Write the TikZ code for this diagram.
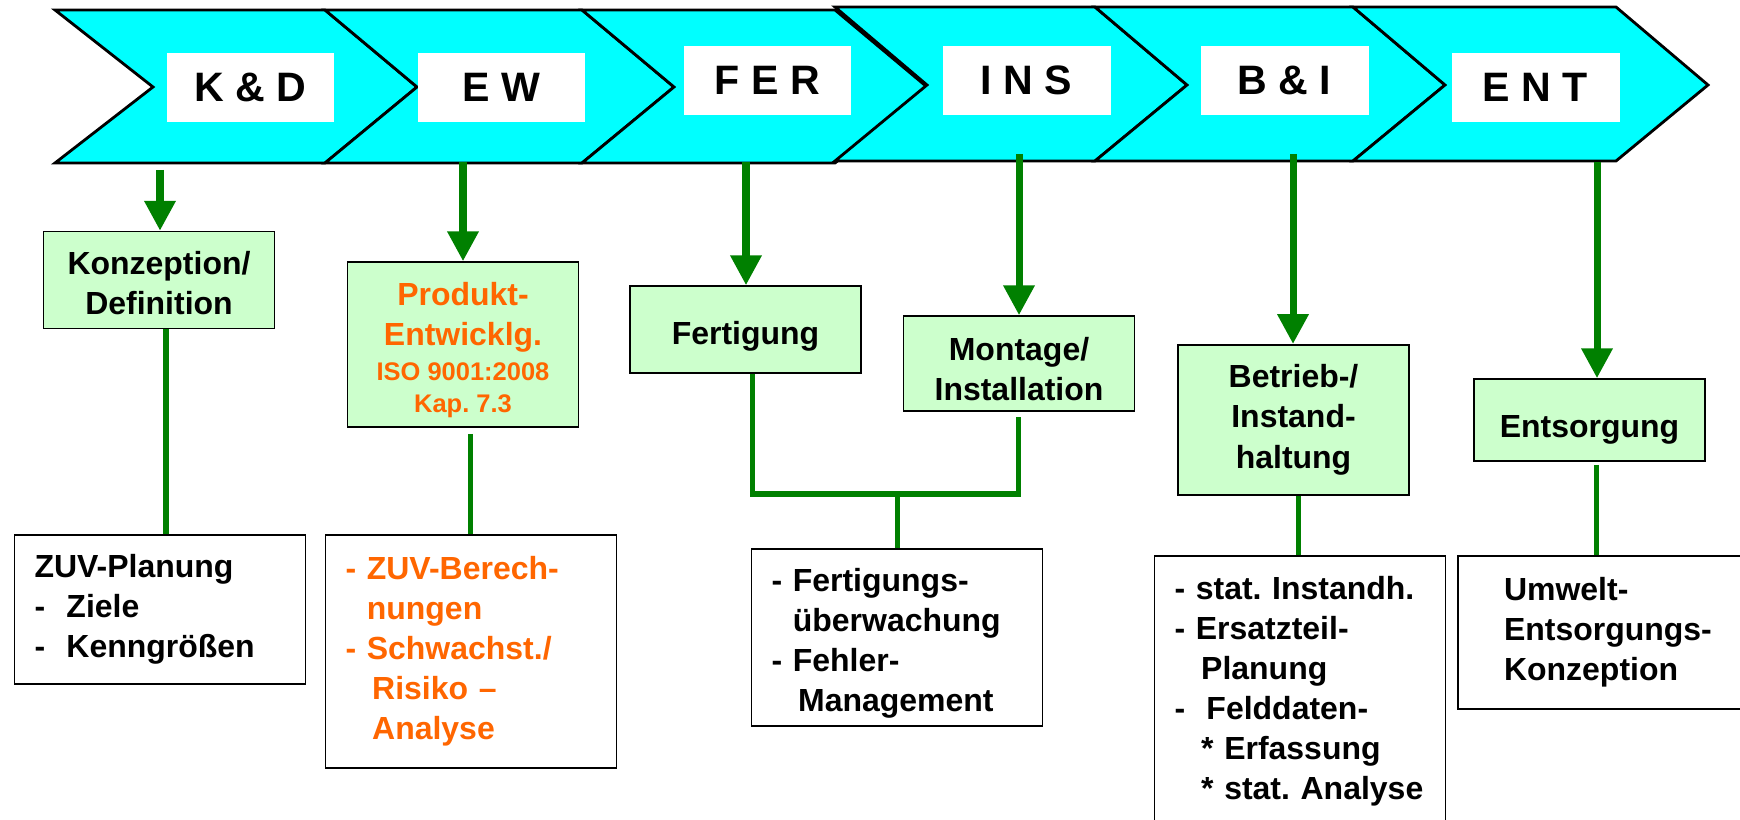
\documentclass[tikz,border=0pt]{standalone}
\usepackage{fontspec}
\setmainfont{Liberation Sans}
\usetikzlibrary{arrows.meta,calc}

\definecolor{bandcyan}{RGB}{0,255,255}
\definecolor{boxgreen}{RGB}{204,255,204}
\definecolor{linegreen}{RGB}{0,128,0}
\definecolor{textorange}{RGB}{255,102,0}
\newcommand{\boxfont}{\fontsize{18.2}{22.8}\selectfont\bfseries}
\newcommand{\phasefont}{\fontsize{23.4}{28}\selectfont\bfseries}
\newcommand{\isofont}{\fontsize{14.5}{18}\selectfont}
\newcommand{\lowstrut}{\rule{0pt}{20pt}}

\begin{document}
\frenchspacing
\begin{tikzpicture}[x=0.02cm, y=-0.02cm,
    chevron/.style={fill=bandcyan, draw=black, line width=1.6pt, line join=miter},
    phase/.style={rectangle, fill=white, minimum width=3.36cm, minimum height=1.4cm, inner sep=0pt, font=\phasefont},
    stage/.style={rectangle, draw=black, line width=0.9pt, fill=boxgreen, minimum width=4.62cm, inner sep=0pt, align=center, font=\boxfont},
    detail/.style={rectangle, draw=black, line width=1pt, fill=white, minimum width=5.82cm, inner xsep=0.4cm, inner ysep=0pt, text width=5.02cm, align=left, font=\boxfont},
    flow/.style={draw=linegreen, line width=4pt, -{Triangle[width=17pt,length=17pt]}},
    link/.style={draw=linegreen, line width=2.85pt}]
    \useasboundingbox (0,0) rectangle (1740,820);
    \clip (0,0) rectangle (1740,820);

    % phase band
    \filldraw[chevron] (55,10) -- (325,10) -- (417,87) -- (325,163) -- (55,163) -- (153,87) -- cycle;
    \filldraw[chevron] (325,10) -- (582,10) -- (674,87) -- (582,163) -- (325,163) -- (417,87) -- cycle;
    \filldraw[chevron] (582,10) -- (835,10) -- (927,87) -- (835,163) -- (582,163) -- (674,87) -- cycle;
    \filldraw[chevron] (835,7) -- (1095,7) -- (1187,85) -- (1095,161) -- (835,161) -- (927,85) -- cycle;
    \filldraw[chevron] (1095,7) -- (1353,7) -- (1445,85) -- (1353,161) -- (1095,161) -- (1187,85) -- cycle;
    \filldraw[chevron] (1353,7) -- (1616,7) -- (1708,85) -- (1616,161) -- (1353,161) -- (1445,85) -- cycle;

    \node (kd) [phase] at (250.5,87.5) {K \& D};
    \node (ew) [phase] at (501.5,87.5) {E W};
    \node (fer) [phase] at (767.5,80.5) {F E R};
    \node (ins) [phase] at (1026.5,80.5) {I N S};
    \node (bi) [phase] at (1284.5,80.5) {B \& I};
    \node (ent) [phase] at (1535.5,87.5) {E N T};

    \coordinate (kdfoot) at (160,170);
    \coordinate (ewfoot) at (463,162);
    \coordinate (ferfoot) at (746,162);
    \coordinate (insfoot) at (1019,154);
    \coordinate (bifoot) at (1293,154);
    \coordinate (entfoot) at (1597,162);

    % stages
    \node (konz) [stage, minimum height=1.94cm] at (159,280) {\rule{0pt}{16.5pt}Konzeption/\\Definition};
    \node (prod) [stage, minimum height=3.3cm, text=textorange] at (463,344.5)
        {\lowstrut Produkt-\\Entwicklg.\\[-2.9pt]{\isofont ISO 9001:2008}\\[-4.6pt]{\isofont Kap. 7.3}};
    \node (fert) [stage, minimum height=1.74cm, text height=21.6pt, text depth=4pt] at (745.5,329.5) {Fertigung};
    \node (mont) [stage, minimum height=1.9cm] at (1019,363.5) {\lowstrut Montage/\\Installation};
    \node (betr) [stage, minimum height=3cm] at (1293.5,419.75) {Betrieb-/\\Instand-\\haltung};
    \node (ents) [stage, minimum height=1.64cm, text height=23.4pt, text depth=4pt] at (1589.5,420) {Entsorgung};

    % details
    \node (zuvplan) [detail, minimum height=2.98cm] at (160,609.5)
        {ZUV-Planung\\-~~Ziele\\-~~Kenngrößen};
    \node (zuvber) [detail, minimum height=4.66cm, text=textorange] at (471,651.5)
        {- ZUV-Berech-\\\hphantom{- }nungen\\- Schwachst./\\\hphantom{- }\,Risiko –\\\hphantom{- }\,Analyse};
    \node (fertueb) [detail, minimum height=3.54cm] at (897,637.5)
        {\lowstrut- Fertigungs-\\\hphantom{- }überwachung\\- Fehler-\\\hphantom{- }\,Management};
    \node (statinst) [detail, minimum height=5.4cm] at (1300,691)
        {- stat. Instandh.\\- Ersatzteil-\\\hphantom{- }\,Planung\\-~~Felddaten-\\\hphantom{- }\,* Erfassung\\\hphantom{- }\,* stat. Analyse};
    \node (umwelt) [detail, minimum height=3.06cm, minimum width=6.34cm, inner xsep=0.92cm, text width=4.5cm] at (1616.5,632.5)
        {Umwelt-\\Entsorgungs-\\Konzeption};

    % arrows from the band
    \draw[flow] (kdfoot) -- (kdfoot |- konz.north);
    \draw[flow] (ewfoot) -- (ewfoot |- prod.north);
    \draw[flow] (ferfoot) -- (ferfoot |- fert.north);
    \draw[flow] (insfoot) -- (insfoot |- mont.north);
    \draw[flow] (bifoot) -- (bifoot |- betr.north);
    \draw[flow] (entfoot) -- (entfoot |- ents.north);

    % links to the details
    \coordinate (fmjoin) at (897,494);
    \draw[link] ($(konz.south)+(7,0)$) -- ($(konz.south |- zuvplan.north)+(7,0)$);
    \draw[link] ($(prod.south)+(7,6)$) -- ($(prod.south |- zuvber.north)+(7,0)$);
    \draw[link] ($(fert.south)+(6.5,0)$) |- ($(fmjoin -| mont.south)+(-1,0)$) -- ($(mont.south)+(-1,5)$);
    \draw[link] (fmjoin) -- (fmjoin |- fertueb.north);
    \draw[link] ($(betr.south)+(4.5,0)$) -- ($(betr.south |- statinst.north)+(4.5,0)$);
    \draw[link] ($(ents.south)+(6.5,3)$) -- ($(ents.south |- umwelt.north)+(6.5,0)$);
\end{tikzpicture}
\end{document}
